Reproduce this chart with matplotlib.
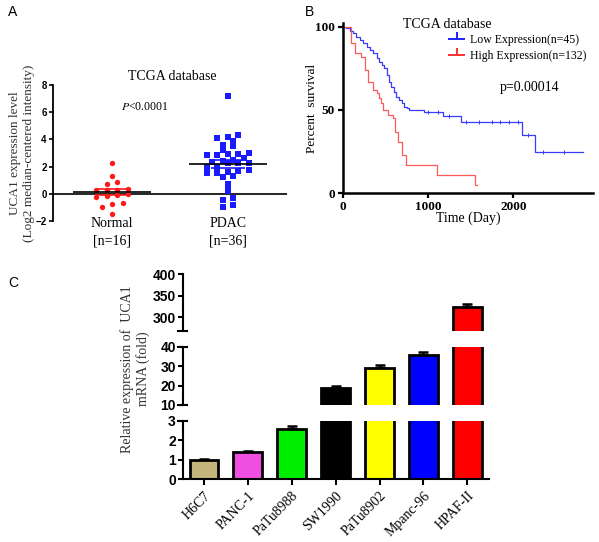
import numpy as np
import matplotlib
matplotlib.use('Agg')
import matplotlib.pyplot as plt
from matplotlib.lines import Line2D

plt.rcParams['mathtext.fontset'] = 'stix'

SERIF = 'Liberation Serif'
SANS = 'Liberation Sans'

# ---- panel A data (TCGA expression) ----
normal_vals = [2.3, 0.9, 0.75, 1.3, 0.3, 0.25, 0.3, 0.35, 0.0, -0.15, -0.1,
               -0.2, -0.7, -0.75, -0.95, -1.45]
pdac_vals = [7.2, 4.35, 4.15, 3.9, 3.6, 4.1, 3.55, 3.2, 2.95, 2.85, 2.85, 2.9,
             3.0, 2.6, 2.4, 2.3, 2.35, 2.3, 2.25, 2.45, 2.0, 1.95, 1.75, 1.55,
             1.5, 1.3, 1.2, 1.6, 1.65, 0.75, 0.5, 0.2, -0.3, -0.45, -0.95, -0.8]
group_labels = ['Normal\n[n=16]', 'PDAC\n[n=36]']

# ---- panel B data (Kaplan-Meier) ----
low_t = [0, 40, 80, 120, 160, 200, 240, 280, 320, 360, 400, 430, 460, 490, 520,
         545, 570, 600, 630, 660, 690, 720, 750, 780, 950, 1180, 1390, 2100,
         2250, 2820]
low_s = [100, 99, 97.5, 96, 94, 92, 90, 88, 86, 84, 81, 79, 77, 75, 71, 67, 64,
         61, 58, 56, 54, 52, 51, 50, 48.5, 46.5, 42.5, 35, 25, 25]
low_censor = [1000, 1120, 1250, 1450, 1600, 1750, 1850, 1950, 2050, 2170, 2350, 2600]
high_t = [0, 100, 140, 220, 260, 300, 360, 400, 430, 450, 475, 530, 590, 615,
          650, 690, 745, 1100, 1550, 1580]
high_s = [100, 90, 84, 82, 74, 67, 62, 60, 57, 54, 50, 47, 45, 37, 31, 23, 17,
          11, 5, 5]

# ---- panel C data (qPCR) ----
cell_lines = ['H6C7', 'PANC-1', 'PaTu8988', 'SW1990', 'PaTu8902', 'Mpanc-96', 'HPAF-II']
fold = [1.0, 1.38, 2.55, 18.5, 28.9, 35.7, 323]
fold_err = [0.02, 0.08, 0.17, 1.3, 1.7, 1.6, 7.5]
bar_colors = ['#c4b57c', '#f04ee0', '#00ee00', '#000000', '#ffff00', '#0000ff', '#ff0000']

W, H = 599, 542
fig = plt.figure(figsize=(W / 100, H / 100), dpi=100)


def frac_box(left, top, right, bottom):
    return [left / W, 1 - bottom / H, (right - left) / W, (bottom - top) / H]


def swarm(vals, center, dx=0.09, row_h=0.42):
    # GraphPad-like scatter: bin points into rows, spread each row symmetrically
    vals = np.asarray(vals)
    rows = np.round(vals / row_h).astype(int)
    xs = np.zeros(len(vals))
    for r in np.unique(rows):
        idx = np.where(rows == r)[0]
        idx = idx[np.argsort(vals[idx])]
        n = len(idx)
        xs[idx] = center + (np.arange(n) - (n - 1) / 2) * dx
    return xs


# ================= Panel A =================
axA = fig.add_axes(frac_box(53, 85, 287, 221))
for c, vals, col, mk in [(1, normal_vals, '#ff1a1a', 'o'), (2, pdac_vals, '#1a1aff', 's')]:
    xs = swarm(vals, c)
    axA.scatter(xs, vals, s=15 if mk == 'o' else 14, marker=mk, color=col,
                linewidths=0, zorder=3, clip_on=False)
    m = np.mean(vals)
    sem = np.std(vals, ddof=1) / np.sqrt(len(vals))
    axA.hlines(m, c - 0.34, c + 0.34, color='black', lw=1.2, zorder=4)
    axA.hlines([m - sem, m + sem], c - 0.15, c + 0.15, color=col, lw=1.2, zorder=4)
axA.axhline(0, color='black', lw=1.2, zorder=2)
axA.set_xlim(0.49, 2.51)
axA.set_ylim(-2, 8)
axA.set_yticks([-2, 0, 2, 4, 6, 8])
for lab in axA.get_yticklabels():
    lab.set_fontfamily(SANS)
    lab.set_fontweight('bold')
    lab.set_fontsize(7)
axA.set_xticks([1, 2])
axA.set_xticklabels(group_labels, fontfamily=SERIF, fontsize=10, linespacing=1.5)
axA.tick_params(axis='x', length=0, pad=-3)
axA.tick_params(axis='y', length=3, width=1.2, pad=1.5)
for sp in ['top', 'right', 'bottom']:
    axA.spines[sp].set_visible(False)
axA.spines['left'].set_linewidth(1.3)
axA.set_ylabel('UCA1 expression level\n(Log2 median-centered intensity)',
               fontfamily=SERIF, fontsize=9.5, color='#333333', linespacing=1.25)
axA.yaxis.set_label_coords(-0.075, 0.5)
fig.text(172 / W, 1 - 76 / H, 'TCGA database', fontfamily=SERIF, fontsize=10,
         ha='center', va='center')
fig.text(145 / W, 1 - 107 / H, '$P$<0.0001', fontfamily=SERIF, fontsize=8.5,
         ha='center', va='center')

# ================= Panel B =================
axB = fig.add_axes(frac_box(342.7, 23.3, 593, 193.3))
axB.step(low_t, low_s, where='post', color='#3a3aff', lw=0.9, clip_on=False)
axB.step(high_t, high_s, where='post', color='#ff5a5a', lw=0.9, clip_on=False)
cens_y = [low_s[np.searchsorted(low_t, c, side='right') - 1] for c in low_censor]
axB.plot(low_censor, cens_y, ls='none', marker='|', ms=2.5, mew=0.7, color='#3a3aff')
axB.set_xlim(0, 2935)
axB.set_ylim(0, 102)
axB.set_xticks([0, 1000, 2000])
axB.set_yticks([0, 50, 100])
for lab in axB.get_xticklabels() + axB.get_yticklabels():
    lab.set_fontfamily(SERIF)
    lab.set_fontweight('bold')
    lab.set_fontsize(9.5)
axB.tick_params(length=3.5, width=1.6, pad=2)
for sp in ['top', 'right']:
    axB.spines[sp].set_visible(False)
for sp in ['left', 'bottom']:
    axB.spines[sp].set_linewidth(1.8)
axB.set_ylabel('Percent  survival', fontfamily=SERIF, fontsize=9.5)
axB.yaxis.set_label_coords(-0.1, 0.5)
axB.set_xlabel('Time (Day)', fontfamily=SERIF, fontsize=10, labelpad=-1)
handles = [Line2D([0], [0], color='#2020ff', lw=1.4, marker=2, ms=5, mew=1.4),
           Line2D([0], [0], color='#ff3030', lw=1.4, marker=2, ms=5, mew=1.4)]
fig.legend(handles, ['Low Expression(n=45)', 'High Expression(n=132)'],
           loc='upper left', bbox_to_anchor=(449 / W, 1 - 34 / H), frameon=False,
           prop={'family': SERIF, 'size': 8.5}, handlelength=1.3, handletextpad=0.5,
           borderaxespad=0, borderpad=0, labelspacing=0.35)
fig.text(447 / W, 1 - 24 / H, 'TCGA database', fontfamily=SERIF, fontsize=10,
         ha='center', va='center')
fig.text(530 / W, 1 - 88 / H, 'p=0.00014', fontfamily=SERIF, fontsize=10,
         ha='center', va='center')

# ================= Panel C =================
x = np.arange(len(cell_lines))
segs = [  # (top_px, bottom_px, ylim, ticks)
    (274, 331, (268.4, 400), [300, 350, 400]),
    (346.7, 405, (10, 40), [10, 20, 30, 40]),
    (420.7, 479.3, (0, 3), [0, 1, 2, 3]),
]
axesC = []
for i, (tp, bp, yl, ticks) in enumerate(segs):
    ax = fig.add_axes(frac_box(182.7, tp, 489.3, bp))
    ax.bar(x, fold, width=0.66, color=bar_colors, edgecolor='black', lw=2.0, zorder=2)
    ax.errorbar(x, fold, yerr=[np.zeros(len(fold)), fold_err], fmt='none',
                ecolor='black', elinewidth=1.8, capsize=3.5, capthick=1.8, zorder=1)
    ax.set_xlim(-0.485, 6.5)
    ax.set_ylim(*yl)
    ax.set_yticks(ticks)
    for lab in ax.get_yticklabels():
        lab.set_fontfamily(SANS)
        lab.set_fontweight('bold')
        lab.set_fontsize(10)
    ax.tick_params(axis='y', length=3.5, width=1.5, pad=1.5)
    for sp in ['top', 'right']:
        ax.spines[sp].set_visible(False)
    ax.spines['left'].set_linewidth(1.5)
    ax.spines['bottom'].set_linewidth(1.5)
    if i < 2:
        ax.spines['bottom'].set_visible(False)
        ax.set_xticks([])
    # break marks on the spine ends
    ends = []
    if i > 0:
        ends.append(1)
    if i < 2:
        ends.append(0)
    for e in ends:
        ax.plot([-0.014, 0.014], [e, e], transform=ax.transAxes, color='black',
                lw=1.5, clip_on=False)
    axesC.append(ax)

axC = axesC[-1]
axC.set_xticks(x)
axC.set_xticklabels(cell_lines, rotation=45, ha='right', rotation_mode='anchor',
                    fontfamily=SERIF, fontsize=10)
axC.tick_params(axis='x', length=4, width=1.5, pad=3)
fig.text(135 / W, 1 - 369 / H, 'Relative expression of  UCA1\nmRNA (fold)',
         rotation=90, fontfamily=SERIF, fontsize=10, color='#333333',
         ha='center', va='center', linespacing=1.15)

# panel letters
fig.text(8 / W, 1 - 12 / H, 'A', fontfamily=SANS, fontsize=10, va='center')
fig.text(305 / W, 1 - 12 / H, 'B', fontfamily=SANS, fontsize=10, va='center')
fig.text(8 / W, 1 - 283 / H, 'C', fontfamily=SANS, fontsize=10, va='center')

fig.savefig('out.png', dpi=100)
